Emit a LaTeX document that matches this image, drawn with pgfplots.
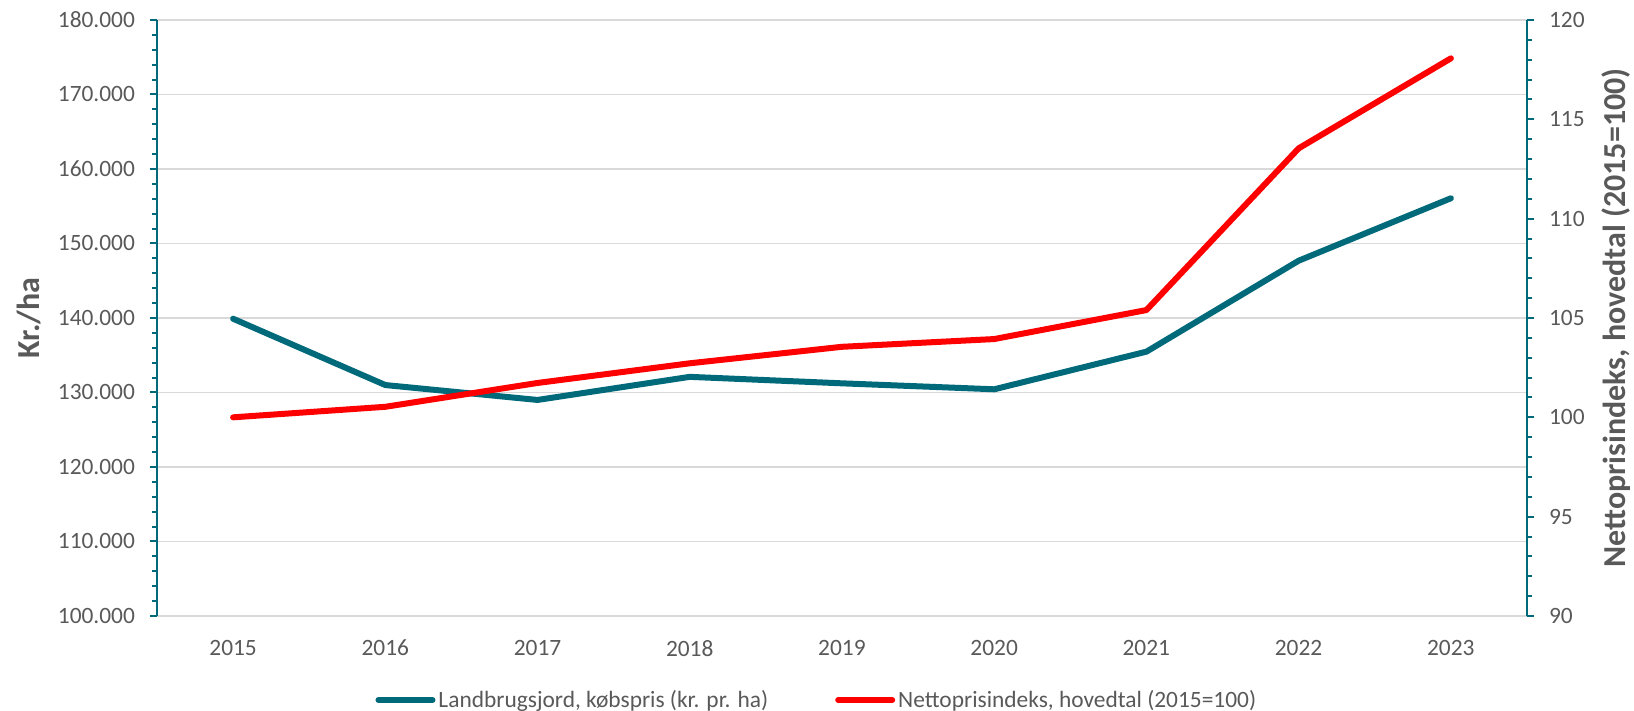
\documentclass[border=0pt]{standalone}
\usepackage{fontspec}
\setmainfont{Carlito}
\usepackage{pgfplots}
\pgfplotsset{compat=1.18}
\definecolor{teal1}{HTML}{006A7B}
\definecolor{tgray}{HTML}{595959}
\definecolor{gridc}{HTML}{D9D9D9}
\begin{document}
\begin{tikzpicture}
\pgfplotsset{every axis/.append style={
  scale only axis, width=685pt, height=298pt,
  xmin=2014.5, xmax=2023.5,
  font=\fontsize{11.7}{14}\selectfont,
  tick label style={text=tgray},
  /pgf/number format/assume math mode=true,
  tick align=outside,
  major tick length=3.5pt, minor tick length=2.5pt,
  y axis line style={teal1, line width=1.3pt},
  ytick style={teal1, line width=1pt},
  minor y tick style={teal1, line width=1pt},
  label style={text=tgray, font=\fontsize{16}{19}\selectfont\bfseries},
}}
\begin{axis}[
  axis x line*=bottom, axis y line*=left,
  x axis line style={draw=none},
  xtick={2015,...,2023},
  xticklabels={2015,2016,2017,2018,2019,2020,2021,2022,2023},
  xtick style={draw=none},
  xticklabel style={yshift=-5pt},
  ymin=100000, ymax=180000,
  ytick={100000,110000,...,180000},
  minor y tick num=4,
  scaled y ticks=false,
  yticklabel style={/pgf/number format/.cd, fixed, 1000 sep={.}, /tikz/.cd, xshift=-4pt},
  ymajorgrids, major grid style={gridc, line width=0.8pt},
  ylabel={Kr./ha},
  ylabel style={at={(axis description cs:-0.0934,0.5)}, anchor=center},
]
\addplot[teal1, line width=3pt, line join=round, line cap=round] coordinates {
(2015,139900) (2016,131000) (2017,129000) (2018,132100) (2019,131230)
(2020,130430) (2021,135480) (2022,147690) (2023,156070)};
\end{axis}
\begin{axis}[
  axis x line=none, axis y line*=right,
  ymin=90, ymax=120,
  ytick={90,95,...,120},
  minor y tick num=4,
  yticklabel style={xshift=4pt},
  ylabel={Nettoprisindeks, hovedtal (2015=100)},
  ylabel style={at={(axis description cs:1.065,0.5)}, anchor=center, rotate=0},
  legend style={at={(0.482,-0.141)}, anchor=center, draw=none, fill=none,
    legend columns=2, text=tgray, font=\fontsize{11.7}{14}\selectfont,
    nodes={inner sep=1.5pt},
    /tikz/every even column/.append style={column sep=32pt}},
  legend image code/.code={\draw[#1, line width=3pt, line cap=round] (0pt,0pt)--(27pt,0pt);},
]
\addlegendimage{teal1}
\addlegendentry{Landbrugsjord, købspris (kr. pr. ha)}
\addplot[red, line width=3pt, line join=round, line cap=round] coordinates {
(2015,100) (2016,100.53) (2017,101.73) (2018,102.72) (2019,103.55)
(2020,103.94) (2021,105.40) (2022,113.54) (2023,118.07)};
\addlegendentry{Nettoprisindeks, hovedtal (2015=100)}
\end{axis}
\pgfresetboundingbox
\path[use as bounding box] ([xshift=-78.5pt,yshift=-47.5pt]current axis.south west) rectangle ([xshift=53.5pt,yshift=10pt]current axis.north east);
\end{tikzpicture}
\end{document}
